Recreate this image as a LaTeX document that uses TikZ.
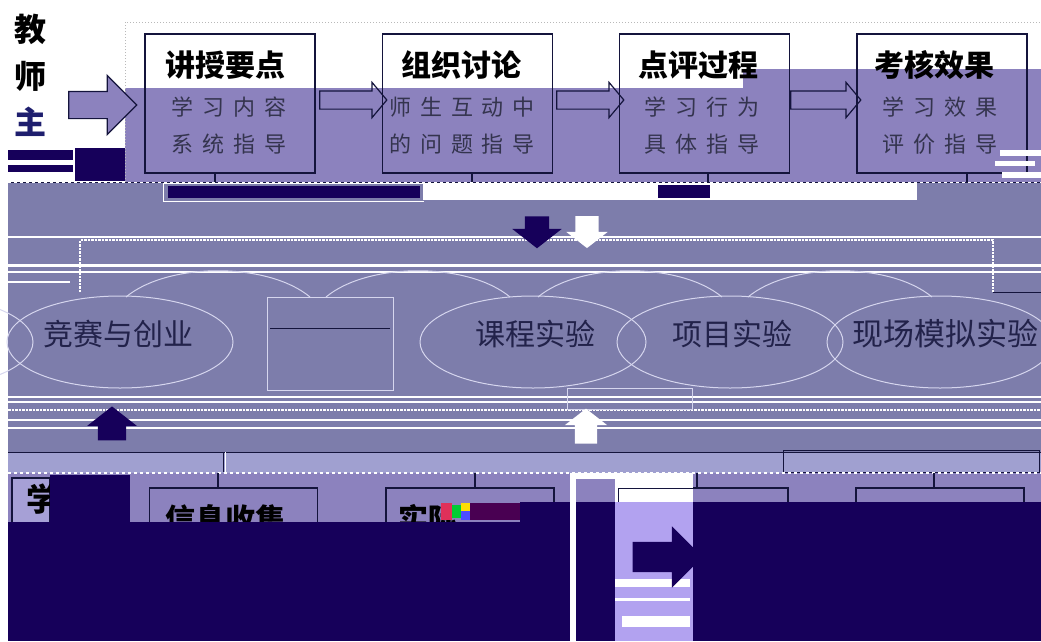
\documentclass[tikz,border=0pt]{standalone}
\usepackage{fontspec}
\newfontfamily\cjk{Noto Sans CJK SC}
\usetikzlibrary{shapes.geometric,shapes.arrows}
\definecolor{tint}{HTML}{8C82BE}
\definecolor{band}{HTML}{7D7DAB}
\definecolor{lightband}{HTML}{A0A0D0}
\definecolor{navy}{HTML}{16005A}
\definecolor{lavender}{HTML}{B2A2F0}
\definecolor{darkink}{HTML}{14143C}
\definecolor{subink}{HTML}{34344E}
\definecolor{ghostline}{HTML}{D6D6EE}
\definecolor{fieldink}{HTML}{22224A}
\definecolor{sidenavy}{HTML}{1E1E6E}
\definecolor{lightfill}{HTML}{A6A0D6}
\definecolor{glitchred}{HTML}{E0305A}
\newcommand\gap{\hspace{9pt}}

\begin{document}
\begin{tikzpicture}
[x=1pt,y=-1pt,
stagebox/.style={rectangle,draw=darkink,line width=1.3pt,minimum width=170pt,minimum height=139pt,inner sep=0pt},
lowbox/.style={rectangle,draw=darkink,line width=1.3pt,minimum width=168pt,minimum height=114pt,inner sep=0pt},
title/.style={font=\cjk\bfseries\fontsize{30}{36}\selectfont,text=black,inner sep=0pt},
sub/.style={font=\cjk\fontsize{22}{37}\selectfont,text=subink,align=center,inner sep=0pt},
sidetext/.style={font=\cjk\bfseries\fontsize{32}{36}\selectfont,text=black,inner sep=0pt},
flowarrow/.style={single arrow,draw=darkink,line width=1.2pt,minimum height=67pt,inner xsep=0pt,inner ysep=8.5pt,single arrow head extend=8.5pt,single arrow tip angle=100},
blockarrow/.style={single arrow,minimum height=32pt,inner xsep=0pt,single arrow tip angle=104},
fieldellipse/.style={ellipse,draw=ghostline,line width=1pt,minimum width=226pt,minimum height=92pt,inner sep=0pt},
fieldtext/.style={font=\cjk\fontsize{30}{36}\selectfont,text=fieldink,inner sep=0pt},
link/.style={draw=darkink,line width=1.3pt},
framedots/.style={draw=gray!55,dotted,line width=1pt},
whitedots/.style={draw=white,densely dotted,line width=2.5pt},
streak/.style={draw=white,line width=1.5pt}
]
\useasboundingbox (0,0) rectangle (1041,641);

% tinted layers
\fill[tint] (125,88) -- (743,88) -- (743,69) -- (1041,69) -- (1041,182) -- (125,182) -- cycle;
\fill[band] (8,182) rectangle (1041,452);
\fill[lightband] (8,452) rectangle (1041,473);
\fill[tint] (8,473) rectangle (1041,522);
\draw[framedots] (125,182) -- (125,22) -- (1041,22);

% teacher side
\node[sidetext] (tA) at (30,29) {教};
\node[sidetext] (tB) at (30,76) {师};
\node[sidetext,text=sidenavy] (tC) at (30,122) {主};
\node[single arrow,fill=tint,draw=darkink,line width=1.2pt,minimum height=68pt,inner xsep=0pt,inner ysep=13pt,single arrow head extend=16pt] (tarrow) at (96,105) {};
\fill[navy] (8,150) rectangle (73,160);
\fill[navy] (8,165) rectangle (73,172);
\fill[navy] (75,148) rectangle (125,181);
\fill[white] (8,174) rectangle (60,179);

% teacher stages
\node[stagebox] (teach) at (230,103.5) {};
\node[stagebox] (discuss) at (467.5,103.5) {};
\node[stagebox] (review) at (704.5,103.5) {};
\node[stagebox] (assess) at (942,103.5) {};

\node[title] (teachT) at (225,65) {讲授要点};
\node[title] (discussT) at (461,65) {组织讨论};
\node[title] (reviewT) at (698,65) {点评过程};
\node[title] (assessT) at (934,65) {考核效果};

\node[sub] (teachS) at (229,126) {学\gap 习\gap 内\gap 容\\系\gap 统\gap 指\gap 导};
\node[sub] (discussS) at (462,126) {师\gap 生\gap 互\gap 动\gap 中\\的\gap 问\gap 题\gap 指\gap 导};
\node[sub] (reviewS) at (702,126) {学\gap 习\gap 行\gap 为\\具\gap 体\gap 指\gap 导};
\node[sub] (assessS) at (940,126) {学\gap 习\gap 效\gap 果\\评\gap 价\gap 指\gap 导};

\node[flowarrow] (fa) at (349.5,100) {};
\node[flowarrow] (fb) at (586.5,100) {};
\node[flowarrow,minimum height=70pt] (fc) at (822,100) {};

\coordinate (teachFoot) at (215,182);
\coordinate (discussFoot) at (472,182);
\coordinate (reviewFoot) at (708,182);
\coordinate (assessFoot) at (967,182);
\draw[link] (teachFoot |- teach.south) -- (teachFoot);
\draw[link] (discussFoot |- discuss.south) -- (discussFoot);
\draw[link] (reviewFoot |- review.south) -- (reviewFoot);
\draw[link] (assessFoot |- assess.south) -- (assessFoot);
\draw[darkink,line width=1pt] (8,182) -- (1041,182);
\draw[white,dashed,line width=1pt] (8,182) -- (1041,182);
\fill[white] (1000,150) rectangle (1041,156);
\fill[white] (995,161) rectangle (1035,166);
\fill[white] (1002,172) rectangle (1041,178);

% broken strip
\draw[white,line width=1pt] (163,183) rectangle (423,201);
\fill[navy] (168,186) rectangle (420,198);
\fill[white] (423,183) rectangle (917,200);
\draw[band,line width=1pt] (423,200) -- (917,200);
\fill[navy] (658,185) rectangle (710,198);

% middle field
\draw[streak] (8,237) -- (1041,237);
\draw[streak,line width=3pt] (8,265) -- (1041,265);
\draw[streak] (8,272) -- (1041,272);
\draw[streak] (8,282) -- (70,282);
\draw[streak] (8,397) -- (1041,397);
\draw[streak] (8,402) -- (1041,402);
\draw[streak] (8,420) -- (1041,420);
\draw[streak,line width=2pt] (8,428) -- (1041,428);
\draw[whitedots] (80,292) -- (80,240) -- (993,240) -- (993,292);
\draw[darkink,line width=1pt] (993,292) -- (1041,292);
\draw[whitedots] (8,410) -- (1041,410);

\draw[ghostline,line width=1pt] (126,297) .. controls (168,262) and (268,262) .. (310,297);
\draw[ghostline,line width=1pt] (326,297) .. controls (368,262) and (468,262) .. (510,297);
\draw[ghostline,line width=1pt] (538,297) .. controls (580,262) and (680,262) .. (722,297);
\draw[ghostline,line width=1pt] (748,297) .. controls (790,262) and (890,262) .. (932,297);

\node[fieldellipse] (ghost) at (-80,342) {};
\node[fieldellipse] (contest) at (120,342) {};
\node[fieldellipse] (course) at (533,342) {};
\node[fieldellipse] (project) at (730,342) {};
\node[fieldellipse] (site) at (940,342) {};
\node[fieldtext] (contestT) at (118,334) {竞赛与创业};
\node[fieldtext] (courseT) at (535,334) {课程实验};
\node[fieldtext] (projectT) at (732,334) {项目实验};
\node[fieldtext,font=\cjk\fontsize{31}{36}\selectfont] (siteT) at (945,334) {现场模拟实验};
\draw[ghostline,line width=1pt] (267,297) rectangle (393,390);
\draw[darkink,line width=1pt] (270,328) -- (390,328);
\draw[ghostline,line width=1pt] (567,388) rectangle (692,409);

\node[blockarrow,fill=navy,rotate=-90,inner ysep=12pt,single arrow head extend=12.5pt] (downA) at (537,227.5) {};
\node[blockarrow,fill=white,rotate=-90,inner ysep=11.5pt,single arrow head extend=9pt] (downB) at (587,227.5) {};
\node[blockarrow,fill=navy,rotate=90,minimum height=34pt,inner ysep=14pt,single arrow head extend=10.5pt] (upA) at (112,429) {};
\node[blockarrow,fill=white,rotate=90,minimum height=35pt,inner ysep=11pt,single arrow head extend=10pt] (upB) at (586,430.5) {};

% student side
\draw[darkink,line width=0.8pt] (8,452) -- (1041,452);
\draw[darkink,line width=1pt] (783,450) rectangle (1039,472);
\draw[darkink,line width=1pt] (223,452) -- (223,472);
\draw[white,line width=1pt] (225,452) -- (225,472);
\draw[white,dashed,line width=1.2pt] (8,473) -- (1041,473);

\node[rectangle,draw=darkink,fill=lightfill,line width=1.3pt,minimum width=38pt,minimum height=70pt,inner sep=0pt] (learn) at (31,513) {};
\node[sidetext] (learnT) at (42,499) {学};
\node[lowbox] (collect) at (233.5,545) {};
\node[lowbox] (practice) at (470,545) {};
\node[lowbox] (stageD) at (704,545) {};
\node[lowbox] (stageE) at (940,545) {};
\node[title] (collectT) at (225,519) {信息收集};
\node[title] (practiceT) at (428,519) {实际};

\coordinate (collectTop) at (218,473);
\coordinate (practiceTop) at (475,473);
\coordinate (stageDTop) at (697,473);
\coordinate (stageETop) at (934,473);
\draw[link] (collectTop) -- (collectTop |- collect.north);
\draw[link] (practiceTop) -- (practiceTop |- practice.north);
\draw[link] (stageDTop) -- (stageDTop |- stageD.north);
\draw[link] (stageETop) -- (stageETop |- stageE.north);

\fill[glitchred] (441,503) rectangle (452,520);
\fill[green!60!teal] (452,505) rectangle (461,518);
\fill[yellow!80!orange] (461,503) rectangle (470,511);
\fill[blue!70] (461,511) rectangle (470,520);
\fill[navy!70!purple] (470,503) rectangle (520,520);

\fill[navy] (8,522) rectangle (570,641);
\fill[navy] (520,502) rectangle (570,522);
\fill[navy] (693,502) rectangle (1041,641);
\fill[navy] (50,475) rectangle (130,522);

\fill[white] (570,473) rectangle (693,641);
\fill[tint] (576,479) rectangle (615,502);
\fill[navy] (576,502) rectangle (615,641);
\fill[lavender] (615,502) rectangle (693,641);
\fill[white] (615,579) rectangle (690,587);
\fill[white] (615,598) rectangle (690,601);
\fill[white] (622,616) rectangle (690,627);
\draw[darkink,line width=1pt] (618,502) -- (618,488) -- (693,488);
\node[single arrow,fill=navy,minimum height=70pt,inner xsep=0pt,inner ysep=15pt,single arrow head extend=15.5pt] (goArrow) at (660,557) {};
\end{tikzpicture}
\end{document}
